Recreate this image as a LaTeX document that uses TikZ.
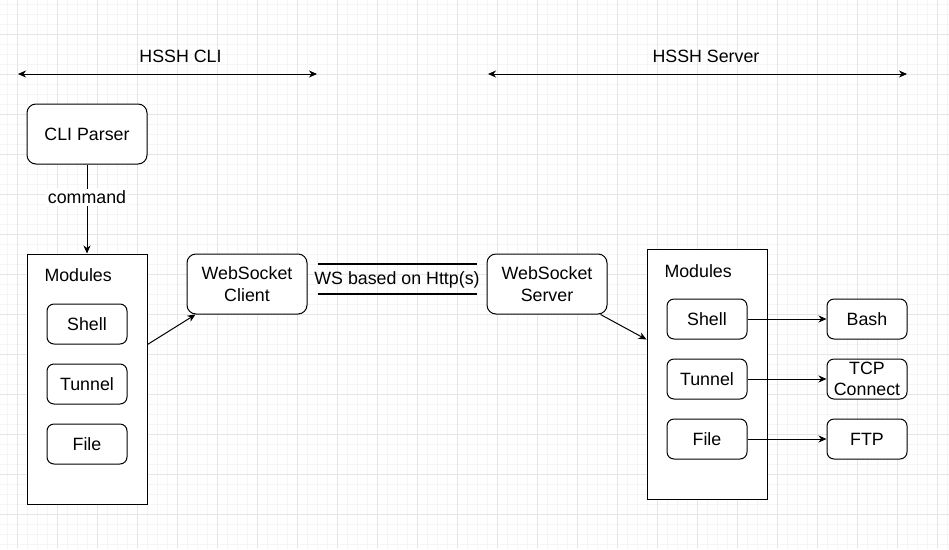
\documentclass[tikz,border=0pt]{standalone}
\usepackage{fontspec}
\setmainfont{Liberation Sans}
\usetikzlibrary{arrows.meta,calc}
\definecolor{gridminor}{HTML}{F5F5F5}
\definecolor{gridmajor}{HTML}{E6E6E6}
\newcommand{\dfont}{\fontsize{17.8}{21.5}\selectfont}
\begin{document}
\begin{tikzpicture}[x=1pt,y=-1pt,
  line width=1pt,
  >={Stealth[length=8pt,width=7pt,inset=2.5pt]},
  every node/.style={font=\dfont},
  bigbox/.style={draw, rounded corners=9pt, minimum width=120pt, minimum height=60pt, align=center, inner sep=0pt},
  smallbox/.style={draw, rounded corners=7pt, minimum width=80pt, minimum height=40pt, align=center, inner sep=0pt},
  modbox/.style={draw, minimum width=120pt, minimum height=250pt, inner sep=0pt},
  plain/.style={inner sep=1pt},
  minorline/.style={draw=gridminor, line width=1pt},
  majorline/.style={draw=gridmajor, line width=1pt}]
\useasboundingbox (0,0) rectangle (949,549);
\fill[white] (0,0) rectangle (949,549);
% grid
\foreach \x in {7.5,17.5,...,947.5} \draw[minorline] (\x,0) -- (\x,549);
\foreach \y in {4,14,...,544} \draw[minorline] (0,\y) -- (949,\y);
\foreach \x in {17.5,57.5,...,937.5} \draw[majorline] (\x,0) -- (\x,549);
\foreach \y in {34,74,...,514} \draw[majorline] (0,\y) -- (949,\y);

% top arrows
\coordinate (cliL) at (18,74);
\coordinate (cliR) at (317,74);
\coordinate (svL) at (488,74);
\coordinate (svR) at (907,74);
\draw[<->] (cliL) -- (cliR);
\draw[<->] (svL) -- (svR);
\node[plain] (clititle) at (180.5,56) {HSSH CLI};
\node[plain] (svtitle) at (706,56) {HSSH Server};

% left side
\node[bigbox, fill=white] (parser) at (87,134) {CLI Parser};
\node[modbox, fill=white] (mods1) at (87,379) {};
\node[plain, anchor=west] (mods1lbl) at (43,275.5) {Modules};
\node[smallbox] (shell1) at (87,324) {Shell};
\node[smallbox] (tunnel1) at (87,384) {Tunnel};
\node[smallbox] (file1) at (87,444) {File};
\draw[->] (parser.south) -- node[pos=0.37, fill=white, inner sep=2pt] (cmd) {command} (mods1.north);

\node[bigbox, fill=white] (client) at (247,284) {WebSocket\\Client};
\node[bigbox, fill=white] (server) at (547,284) {WebSocket\\Server};

\draw[->] (mods1.east |- shell1.south) -- ($(client.south west)+(9,0)$);

% WS link
\draw[line width=2pt] ($(client.east)+(10,-20)$) -- ($(server.west)+(-10,-20)$);
\draw[line width=2pt] ($(client.east)+(10,9.5)$) -- ($(server.west)+(-10,9.5)$);
\node[plain] (wslbl) at ($(client.east)!0.5!(server.west)+(0,-4)$) {WS based on Http(s)};

% right side
\node[modbox, fill=white] (mods2) at (707,374) {};
\node[plain, anchor=west] (mods2lbl) at (663,271) {Modules};
\node[smallbox] (shell2) at (707,319) {Shell};
\node[smallbox] (tunnel2) at (707,379) {Tunnel};
\node[smallbox] (file2) at (707,439) {File};

\node[smallbox, fill=white] (bash) at (867,319) {Bash};
\node[smallbox, fill=white] (tcp) at (867,379) {TCP\\Connect};
\node[smallbox, fill=white] (ftp) at (867,439) {FTP};

\draw[->] ($(server.south east)+(-7,0)$) -- (mods2.west |- shell2.south);
\draw[->] (shell2.east) -- (bash.west);
\draw[->] (tunnel2.east) -- (tcp.west);
\draw[->] (file2.east) -- (ftp.west);
\end{tikzpicture}
\end{document}
